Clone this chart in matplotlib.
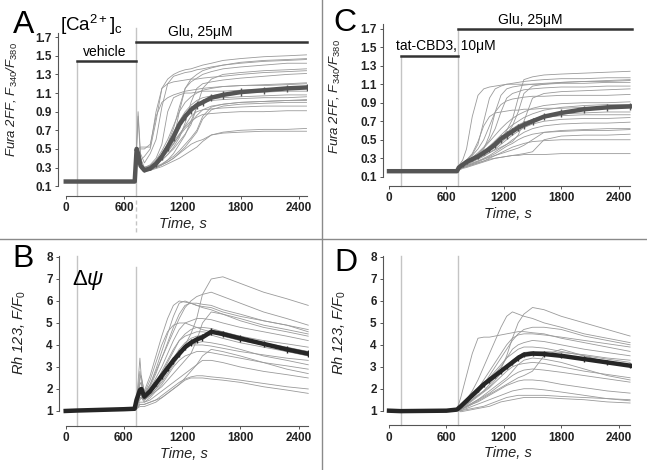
import matplotlib
matplotlib.use("Agg")
import matplotlib.pyplot as plt
from matplotlib.lines import Line2D

plt.rcParams['font.family'] = ['Liberation Sans', 'DejaVu Sans']
plt.rcParams['mathtext.fontset'] = 'custom'
plt.rcParams['mathtext.rm'] = 'Liberation Sans'
plt.rcParams['mathtext.it'] = 'Liberation Sans:italic'
plt.rcParams['mathtext.bf'] = 'Liberation Sans:bold'

# ---------------- data ----------------
# Panel A: Fura-2FF, vehicle then Glu
time_a = [0, 120, 600, 710, 730, 745, 770, 810, 870, 930, 990, 1050, 1110, 1170,
          1230, 1290, 1350, 1410, 1500, 1620, 1800, 2040, 2280, 2480]
base_a = [0.15, 0.15, 0.15, 0.15]
traces_a = [
    base_a + [0.5, 0.45, 0.38, 0.42, 0.5, 0.8, 1.15, 1.25, 1.3, 1.33, 1.35, 1.36, 1.38, 1.4, 1.42, 1.45, 1.47, 1.49, 1.5, 1.51],
    base_a + [0.55, 0.9, 0.45, 0.35, 0.45, 0.6, 0.95, 1.2, 1.28, 1.3, 1.32, 1.33, 1.35, 1.36, 1.38, 1.4, 1.43, 1.45, 1.46, 1.47],
    base_a + [0.5, 0.5, 0.52, 0.52, 0.52, 0.9, 1.15, 1.2, 1.22, 1.23, 1.24, 1.25, 1.25, 1.26, 1.27, 1.28, 1.3, 1.32, 1.33, 1.34],
    base_a + [0.45, 0.4, 0.32, 0.3, 0.33, 0.4, 0.55, 0.9, 1.05, 1.08, 1.1, 1.1, 1.11, 1.12, 1.12, 1.12, 1.13, 1.14, 1.15, 1.15],
    base_a + [0.5, 0.45, 0.32, 0.28, 0.3, 0.35, 0.42, 0.5, 0.6, 0.9, 1.15, 1.22, 1.26, 1.3, 1.33, 1.36, 1.38, 1.4, 1.42, 1.42],
    base_a + [0.45, 0.4, 0.3, 0.27, 0.28, 0.3, 0.33, 0.38, 0.45, 0.55, 0.65, 0.8, 0.95, 1.0, 1.02, 1.03, 1.04, 1.05, 1.05, 1.06],
    base_a + [0.48, 0.42, 0.3, 0.28, 0.29, 0.31, 0.34, 0.38, 0.42, 0.48, 0.55, 0.62, 0.7, 0.85, 0.95, 0.98, 1.0, 1.01, 1.02, 1.02],
    base_a + [0.45, 0.4, 0.3, 0.27, 0.28, 0.3, 0.33, 0.36, 0.4, 0.45, 0.5, 0.55, 0.58, 0.6, 0.65, 0.68, 0.7, 0.71, 0.71, 0.72],
    base_a + [0.42, 0.38, 0.29, 0.26, 0.27, 0.29, 0.31, 0.34, 0.37, 0.4, 0.44, 0.48, 0.52, 0.58, 0.65, 0.67, 0.68, 0.69, 0.69, 0.69],
    base_a + [0.5, 0.45, 0.33, 0.3, 0.32, 0.36, 0.42, 0.5, 0.58, 0.66, 0.74, 0.8, 0.84, 0.87, 0.88, 0.89, 0.9, 0.9, 0.91, 0.91],
    base_a + [0.48, 0.45, 0.32, 0.29, 0.31, 0.35, 0.4, 0.47, 0.55, 0.65, 0.75, 0.85, 0.9, 0.92, 0.93, 0.94, 0.95, 0.96, 0.96, 0.96],
    base_a + [0.5, 0.85, 0.4, 0.3, 0.32, 0.38, 0.48, 0.6, 0.75, 0.9, 1.0, 1.06, 1.1, 1.13, 1.15, 1.17, 1.18, 1.19, 1.2, 1.21],
    base_a + [0.45, 0.42, 0.31, 0.28, 0.3, 0.33, 0.38, 0.44, 0.52, 0.62, 0.78, 1.0, 1.15, 1.2, 1.22, 1.24, 1.26, 1.28, 1.3, 1.31],
    base_a + [0.5, 0.45, 0.33, 0.3, 0.31, 0.34, 0.38, 0.44, 0.5, 0.58, 0.66, 0.76, 0.95, 1.15, 1.25, 1.3, 1.32, 1.34, 1.35, 1.36],
    base_a + [0.47, 0.43, 0.31, 0.28, 0.3, 0.34, 0.42, 0.52, 0.63, 0.74, 0.84, 0.92, 0.98, 1.02, 1.04, 1.05, 1.06, 1.07, 1.08, 1.08],
    base_a + [0.46, 0.42, 0.3, 0.27, 0.28, 0.3, 0.33, 0.36, 0.4, 0.46, 0.52, 0.6, 0.68, 0.82, 0.92, 0.96, 0.98, 0.99, 1.0, 1.0],
    base_a + [0.52, 0.5, 0.5, 0.5, 0.55, 0.85, 1.0, 1.05, 1.08, 1.1, 1.12, 1.13, 1.14, 1.15, 1.16, 1.17, 1.18, 1.18, 1.19, 1.2],
    base_a + [0.5, 0.46, 0.34, 0.3, 0.32, 0.36, 0.44, 0.56, 0.72, 0.95, 1.15, 1.25, 1.3, 1.34, 1.37, 1.4, 1.42, 1.44, 1.45, 1.46],
    base_a + [0.46, 0.42, 0.31, 0.28, 0.3, 0.34, 0.4, 0.48, 0.56, 0.64, 0.72, 0.78, 0.86, 0.92, 0.96, 0.98, 1.0, 1.01, 1.02, 1.03],
    base_a + [0.5, 0.45, 0.32, 0.29, 0.31, 0.36, 0.44, 0.55, 0.68, 0.8, 0.9, 0.97, 1.02, 1.05, 1.07, 1.09, 1.1, 1.11, 1.12, 1.12],
]
mean_a = base_a + [0.5, 0.45, 0.32, 0.27, 0.29, 0.34, 0.42, 0.52, 0.63, 0.76, 0.85, 0.92, 0.97, 1.0, 1.05, 1.08, 1.11, 1.13, 1.15, 1.16]
sem_a = [0.01, 0.01, 0.01, 0.01, 0.02, 0.03, 0.02, 0.02, 0.02, 0.03, 0.04, 0.04, 0.04, 0.04,
         0.04, 0.04, 0.04, 0.04, 0.04, 0.04, 0.04, 0.04, 0.04, 0.04]

# Panel C: Fura-2FF, tat-CBD3 then Glu
time_c = [0, 120, 600, 710, 730, 770, 810, 870, 930, 990, 1050, 1110, 1170, 1230,
          1290, 1350, 1410, 1500, 1620, 1800, 2040, 2280, 2520]
base_c = [0.16, 0.16, 0.16, 0.16]
traces_c = [
    base_c + [0.2, 0.22, 0.24, 0.27, 0.3, 0.34, 0.38, 0.43, 0.5, 0.6, 0.72, 0.95, 1.15, 1.18, 1.2, 1.21, 1.22, 1.23, 1.24],
    base_c + [0.22, 0.28, 0.4, 0.75, 0.98, 1.05, 1.07, 1.08, 1.09, 1.1, 1.1, 1.1, 1.1, 1.1, 1.11, 1.12, 1.13, 1.13, 1.14],
    base_c + [0.2, 0.24, 0.28, 0.34, 0.45, 0.7, 0.95, 1.05, 1.08, 1.1, 1.11, 1.12, 1.13, 1.14, 1.15, 1.16, 1.16, 1.17, 1.17],
    base_c + [0.2, 0.23, 0.25, 0.28, 0.31, 0.35, 0.39, 0.44, 0.5, 0.56, 0.65, 0.8, 1.0, 1.08, 1.1, 1.12, 1.13, 1.14, 1.15],
    base_c + [0.21, 0.24, 0.27, 0.31, 0.36, 0.42, 0.5, 0.62, 0.8, 0.95, 1.0, 1.02, 1.04, 1.05, 1.06, 1.07, 1.07, 1.08, 1.08],
    base_c + [0.2, 0.24, 0.28, 0.33, 0.4, 0.5, 0.65, 0.8, 0.88, 0.92, 0.94, 0.95, 0.96, 0.97, 0.97, 0.98, 0.98, 0.98, 0.99],
    base_c + [0.2, 0.23, 0.26, 0.3, 0.35, 0.41, 0.48, 0.55, 0.62, 0.68, 0.73, 0.77, 0.8, 0.84, 0.87, 0.89, 0.9, 0.9, 0.91],
    base_c + [0.19, 0.22, 0.25, 0.29, 0.33, 0.38, 0.43, 0.49, 0.55, 0.61, 0.66, 0.7, 0.74, 0.78, 0.82, 0.85, 0.87, 0.88, 0.88],
    base_c + [0.19, 0.22, 0.24, 0.27, 0.3, 0.34, 0.38, 0.42, 0.47, 0.52, 0.57, 0.62, 0.67, 0.72, 0.76, 0.78, 0.79, 0.8, 0.8],
    base_c + [0.19, 0.21, 0.23, 0.26, 0.29, 0.32, 0.36, 0.4, 0.45, 0.5, 0.55, 0.59, 0.63, 0.67, 0.7, 0.72, 0.73, 0.73, 0.74],
    base_c + [0.18, 0.2, 0.22, 0.24, 0.27, 0.3, 0.33, 0.37, 0.41, 0.45, 0.5, 0.54, 0.58, 0.62, 0.65, 0.67, 0.68, 0.68, 0.69],
    base_c + [0.18, 0.2, 0.22, 0.24, 0.26, 0.29, 0.32, 0.35, 0.39, 0.43, 0.46, 0.5, 0.53, 0.56, 0.58, 0.59, 0.6, 0.6, 0.61],
    base_c + [0.18, 0.2, 0.21, 0.23, 0.25, 0.27, 0.29, 0.3, 0.31, 0.32, 0.33, 0.34, 0.35, 0.37, 0.5, 0.54, 0.55, 0.55, 0.56],
    base_c + [0.17, 0.19, 0.2, 0.22, 0.24, 0.26, 0.28, 0.3, 0.31, 0.32, 0.33, 0.33, 0.34, 0.34, 0.34, 0.35, 0.35, 0.35, 0.35],
    base_c + [0.18, 0.2, 0.21, 0.23, 0.25, 0.27, 0.3, 0.33, 0.36, 0.39, 0.42, 0.44, 0.46, 0.48, 0.49, 0.5, 0.5, 0.5, 0.5],
    base_c + [0.2, 0.22, 0.24, 0.27, 0.3, 0.33, 0.36, 0.39, 0.42, 0.45, 0.48, 0.55, 0.7, 0.95, 1.0, 1.02, 1.03, 1.04, 1.05],
    base_c + [0.19, 0.21, 0.23, 0.25, 0.27, 0.29, 0.31, 0.33, 0.35, 0.37, 0.39, 0.41, 0.44, 0.5, 0.58, 0.6, 0.61, 0.62, 0.62],
    base_c + [0.2, 0.24, 0.28, 0.35, 0.48, 0.65, 0.75, 0.79, 0.8, 0.81, 0.82, 0.82, 0.83, 0.83, 0.84, 0.84, 0.85, 0.85, 0.85],
    base_c + [0.2, 0.23, 0.27, 0.3, 0.34, 0.4, 0.55, 0.8, 0.98, 1.05, 1.07, 1.08, 1.09, 1.1, 1.1, 1.11, 1.11, 1.12, 1.12],
    base_c + [0.19, 0.22, 0.25, 0.29, 0.33, 0.38, 0.43, 0.48, 0.53, 0.58, 0.62, 0.66, 0.69, 0.72, 0.74, 0.76, 0.77, 0.77, 0.77],
]
mean_c = base_c + [0.2, 0.23, 0.26, 0.29, 0.32, 0.36, 0.4, 0.45, 0.51, 0.55, 0.59, 0.63, 0.66, 0.7, 0.75, 0.79, 0.83, 0.85, 0.86]
sem_c = [0.01] * 4 + [0.01, 0.02, 0.02, 0.02, 0.03, 0.03, 0.03, 0.04, 0.04, 0.04, 0.04, 0.04,
                      0.04, 0.04, 0.04, 0.04, 0.04, 0.04, 0.04]

# Panel B: Rh123, vehicle then Glu
time_b = [0, 120, 600, 710, 730, 765, 780, 810, 870, 930, 990, 1050, 1110, 1170,
          1230, 1290, 1350, 1410, 1500, 1620, 1800, 2040, 2280, 2500]
base_b = [1.0, 1.02, 1.08, 1.1]
traces_b = [
    base_b + [1.2, 1.5, 1.6, 1.5, 1.7, 2.0, 2.4, 2.8, 3.2, 3.6, 4.0, 4.5, 5.2, 6.3, 7.0, 7.1, 6.8, 6.4, 6.1, 5.8],
    base_b + [1.3, 2.5, 2.6, 1.8, 2.2, 2.8, 3.4, 4.0, 4.6, 5.2, 5.7, 6.0, 6.2, 6.3, 6.4, 6.2, 5.9, 5.5, 5.2, 4.9],
    base_b + [1.4, 3.4, 2.5, 1.9, 2.6, 3.5, 4.4, 5.2, 5.8, 6.0, 5.95, 5.9, 5.8, 5.7, 5.6, 5.4, 5.2, 4.9, 4.7, 4.5],
    base_b + [1.3, 2.2, 2.3, 1.7, 2.1, 2.7, 3.4, 4.1, 4.8, 5.4, 5.8, 5.9, 5.9, 5.85, 5.8, 5.6, 5.4, 5.1, 4.9, 4.7],
    base_b + [1.3, 2.0, 2.0, 1.7, 2.0, 2.5, 3.0, 3.6, 4.2, 4.7, 5.0, 5.1, 5.2, 5.2, 5.15, 5.0, 4.8, 4.6, 4.4, 4.2],
    base_b + [1.3, 2.0, 1.9, 1.6, 1.9, 2.3, 2.7, 3.2, 3.7, 4.2, 4.5, 4.7, 4.8, 4.8, 4.75, 4.6, 4.4, 4.2, 4.05, 3.9],
    base_b + [1.2, 1.8, 1.8, 1.5, 1.8, 2.1, 2.5, 2.9, 3.4, 3.8, 4.1, 4.3, 4.4, 4.45, 4.45, 4.3, 4.1, 3.9, 3.7, 3.5],
    base_b + [1.2, 1.7, 1.7, 1.5, 1.7, 2.0, 2.3, 2.7, 3.1, 3.5, 3.8, 4.0, 4.1, 4.15, 4.1, 4.0, 3.8, 3.5, 3.3, 3.1],
    base_b + [1.1, 1.3, 1.3, 1.3, 1.4, 1.5, 1.6, 1.8, 2.0, 2.2, 2.5, 2.8, 3.1, 3.5, 3.8, 3.7, 3.5, 3.2, 2.9, 2.7],
    base_b + [1.1, 1.2, 1.2, 1.2, 1.3, 1.4, 1.6, 1.8, 2.0, 2.2, 2.4, 2.5, 2.5, 2.5, 2.45, 2.4, 2.3, 2.1, 1.95, 1.8],
    base_b + [1.1, 1.3, 1.3, 1.3, 1.4, 1.5, 1.7, 1.9, 2.1, 2.3, 2.45, 2.55, 2.6, 2.6, 2.55, 2.5, 2.4, 2.25, 2.1, 2.0],
    base_b + [1.15, 1.4, 1.4, 1.4, 1.5, 1.7, 1.9, 2.1, 2.3, 2.5, 2.7, 2.9, 3.1, 3.3, 3.3, 3.2, 3.0, 2.8, 2.65, 2.5],
    base_b + [1.2, 1.6, 1.6, 1.5, 1.7, 1.9, 2.1, 2.4, 2.7, 3.0, 3.3, 3.6, 4.2, 5.0, 5.5, 5.4, 5.1, 4.8, 4.6, 4.4],
    base_b + [1.2, 1.8, 1.7, 1.5, 1.8, 2.2, 2.6, 3.0, 3.4, 3.7, 3.9, 4.0, 4.0, 4.0, 3.95, 3.85, 3.7, 3.55, 3.4, 3.3],
    base_b + [1.2, 1.6, 1.6, 1.4, 1.6, 1.9, 2.2, 2.6, 3.0, 3.3, 3.5, 3.6, 3.7, 3.7, 3.65, 3.55, 3.4, 3.2, 3.05, 2.9],
    base_b + [1.3, 2.8, 2.3, 1.8, 2.4, 3.2, 4.0, 4.6, 4.9, 5.0, 5.0, 4.9, 4.8, 4.7, 4.6, 4.4, 4.2, 4.0, 3.85, 3.7],
    base_b + [1.25, 1.9, 1.9, 1.6, 1.9, 2.3, 2.8, 3.3, 3.8, 4.2, 4.4, 4.5, 4.6, 4.6, 4.55, 4.45, 4.3, 4.1, 3.9, 3.7],
    base_b + [1.3, 2.3, 2.2, 1.7, 2.2, 2.9, 3.7, 4.5, 5.3, 5.9, 6.0, 5.9, 5.8, 5.75, 5.7, 5.5, 5.3, 5.1, 4.9, 4.6],
]
mean_b = base_b + [1.5, 1.95, 2.0, 1.65, 1.9, 2.25, 2.6, 2.95, 3.3, 3.6, 3.9, 4.1, 4.25, 4.35, 4.6, 4.5, 4.3, 4.05, 3.8, 3.6]
sem_b = [0.02] * 4 + [0.05, 0.1, 0.1, 0.08, 0.1, 0.12, 0.14, 0.15, 0.15, 0.15, 0.15, 0.15,
                      0.15, 0.15, 0.15, 0.15, 0.15, 0.15, 0.15, 0.15]

# Panel D: Rh123, tat-CBD3 then Glu
time_d = [0, 120, 600, 710, 750, 810, 870, 930, 990, 1050, 1110, 1170, 1230, 1290,
          1350, 1410, 1500, 1620, 1800, 2040, 2280, 2520]
base_d = [1.0, 0.98, 1.0, 1.05]
traces_d = [
    base_d + [1.1, 1.3, 1.5, 1.7, 1.9, 2.2, 2.5, 2.9, 3.5, 4.3, 5.0, 5.4, 5.7, 5.6, 5.3, 5.0, 4.7, 4.4],
    base_d + [1.6, 2.6, 3.6, 4.3, 4.35, 4.35, 4.4, 4.45, 4.5, 4.55, 4.6, 4.6, 4.55, 4.5, 4.3, 4.1, 3.9, 3.7],
    base_d + [1.2, 1.5, 1.9, 2.4, 3.0, 3.6, 4.2, 4.8, 5.3, 5.5, 5.4, 5.3, 5.2, 5.0, 4.8, 4.5, 4.3, 4.1],
    base_d + [1.1, 1.3, 1.6, 1.9, 2.2, 2.6, 3.0, 3.4, 3.8, 4.2, 4.5, 4.7, 4.8, 4.8, 4.7, 4.4, 4.2, 4.0],
    base_d + [1.1, 1.3, 1.5, 1.8, 2.1, 2.4, 2.7, 3.0, 3.4, 3.8, 4.0, 4.1, 4.2, 4.15, 4.0, 3.8, 3.65, 3.5],
    base_d + [1.1, 1.3, 1.5, 1.7, 1.9, 2.1, 2.4, 2.7, 3.0, 3.3, 3.5, 3.65, 3.7, 3.7, 3.65, 3.55, 3.4, 3.3],
    base_d + [1.05, 1.2, 1.35, 1.5, 1.7, 1.9, 2.1, 2.3, 2.5, 2.8, 3.1, 3.3, 3.4, 3.35, 3.2, 2.9, 2.6, 2.4],
    base_d + [1.05, 1.2, 1.35, 1.5, 1.65, 1.8, 2.0, 2.2, 2.4, 2.6, 2.75, 2.85, 2.9, 2.85, 2.75, 2.6, 2.45, 2.3],
    base_d + [1.05, 1.15, 1.3, 1.4, 1.55, 1.7, 1.85, 2.0, 2.15, 2.25, 2.35, 2.4, 2.4, 2.35, 2.2, 2.05, 1.9, 1.8],
    base_d + [1.0, 1.05, 1.1, 1.15, 1.2, 1.3, 1.4, 1.5, 1.6, 1.65, 1.7, 1.7, 1.7, 1.7, 1.65, 1.6, 1.55, 1.5],
    base_d + [0.95, 1.0, 1.05, 1.1, 1.15, 1.2, 1.3, 1.4, 1.45, 1.5, 1.55, 1.6, 1.6, 1.6, 1.55, 1.5, 1.4, 1.35],
    base_d + [1.05, 1.2, 1.3, 1.45, 1.6, 1.75, 1.9, 2.05, 2.2, 2.35, 2.5, 2.6, 2.8, 3.5, 3.8, 3.5, 3.2, 3.0],
    base_d + [1.0, 1.1, 1.2, 1.3, 1.4, 1.5, 1.6, 1.7, 1.8, 1.9, 1.95, 2.0, 2.0, 1.95, 1.85, 1.7, 1.55, 1.45],
    base_d + [1.1, 1.4, 1.7, 2.0, 2.4, 2.8, 3.2, 3.6, 4.0, 4.3, 4.45, 4.5, 4.5, 4.45, 4.35, 4.2, 4.05, 3.9],
    base_d + [1.1, 1.35, 1.6, 1.9, 2.2, 2.5, 2.8, 3.1, 3.4, 3.6, 3.8, 3.9, 3.9, 3.85, 3.7, 3.5, 3.35, 3.2],
    base_d + [1.05, 1.25, 1.45, 1.65, 1.85, 2.05, 2.3, 2.55, 2.8, 3.0, 3.1, 3.15, 3.2, 3.15, 3.0, 2.8, 2.65, 2.5],
]
mean_d = base_d + [1.2, 1.45, 1.7, 1.95, 2.2, 2.4, 2.6, 2.8, 3.0, 3.2, 3.4, 3.55, 3.6, 3.58, 3.5, 3.35, 3.2, 3.05]
sem_d = [0.02] * 4 + [0.04, 0.06, 0.08, 0.1, 0.1, 0.12, 0.12, 0.12, 0.12, 0.12, 0.12, 0.12,
                      0.12, 0.12, 0.12, 0.12, 0.12, 0.12]

xticks = [0, 600, 1200, 1800, 2400]
yticks_fura = [0.1, 0.3, 0.5, 0.7, 0.9, 1.1, 1.3, 1.5, 1.7]
yticks_rh = [1, 2, 3, 4, 5, 6, 7, 8]

# ---------------- figure ----------------
W, H = 647, 470
fig = plt.figure(figsize=(W / 100, H / 100), dpi=100)


def px_axes(left, top, right, bottom):
    return fig.add_axes([left / W, 1 - bottom / H, (right - left) / W, (bottom - top) / H])


TRACE_C = '#9a9a9a'


def style(ax, xlim, ylim, yticks, ylab, yfmt, xend, ybounds, labxy, labsize):
    ax.set_xlim(*xlim)
    ax.set_ylim(*ylim)
    for s in ['top', 'right']:
        ax.spines[s].set_visible(False)
    ax.spines['left'].set_bounds(*ybounds)
    ax.spines['bottom'].set_bounds(0, xend)
    for s in ['left', 'bottom']:
        ax.spines[s].set_color('#555555')
        ax.spines[s].set_linewidth(0.8)
    ax.set_xticks(xticks)
    ax.set_yticks(yticks)
    ax.set_yticklabels([yfmt.format(v) for v in yticks])
    ax.tick_params(direction='out', length=2.5, width=0.7, color='#555555',
                   labelsize=8.5, pad=2)
    for lab in ax.get_xticklabels() + ax.get_yticklabels():
        lab.set_fontweight('bold')
        lab.set_color('#222222')
    ax.set_xlabel('Time, s', fontsize=10.5, fontstyle='italic', labelpad=2, color='#222222')
    ax.set_ylabel(ylab, fontsize=labsize, fontstyle='italic', color='#222222')
    ax.yaxis.set_label_coords(*labxy)
    ax.patch.set_alpha(0)


def draw(ax, t, traces, mean, sem, mcol, vlines):
    for (xv, y0, y1) in vlines:
        ax.plot([xv, xv], [y0, y1], color='#c4c4c4', lw=1.0, zorder=1, clip_on=False)
    for tr in traces:
        ax.plot(t, tr, color=TRACE_C, lw=0.6, zorder=2)
    ax.errorbar(t, mean, yerr=sem, color=mcol, lw=3.2, elinewidth=1.0, capsize=0, zorder=3)


fura_lab = r'Fura 2FF, F$_\mathit{340}$/F$_\mathit{380}$'
rh_lab = r'Rh 123, F/F$_\mathit{0}$'

# Panel A
axA = px_axes(58, 32.5, 307.5, 195.5)
style(axA, (-80, 2490), (0.0, 1.75), yticks_fura, fura_lab, '{:.1f}', 2480, (0.1, 1.75),
      (-0.152, 0.59), 9.5)
draw(axA, time_a, traces_a, mean_a, sem_a, '#555555',
     [(120, 0.0, 1.445), (720, 0.0, 1.80)])
axA.plot([120, 720], [1.445, 1.445], color='#333333', lw=1.8, clip_on=False)
axA.plot([720, 2485], [1.648, 1.648], color='#333333', lw=1.8, clip_on=False)
axA.text(405, 1.54, 'vehicle', ha='center', va='center', fontsize=10)
axA.text(1385, 1.76, 'Glu, 25\u03bcM', ha='center', va='center', fontsize=10)

# Panel C
axC = px_axes(383, 24.1, 632, 186)
style(axC, (-63, 2540), (0.0, 1.75), yticks_fura, fura_lab, '{:.1f}', 2520, (0.1, 1.75),
      (-0.161, 0.55), 9.5)
draw(axC, time_c, traces_c, mean_c, sem_c, '#555555',
     [(120, 0.0, 1.40), (720, 0.0, 1.70)])
axC.plot([120, 720], [1.40, 1.40], color='#333333', lw=1.8, clip_on=False)
axC.plot([720, 2535], [1.693, 1.693], color='#333333', lw=1.8, clip_on=False)
axC.text(590, 1.51, 'tat-CBD3, 10\u03bcM', ha='center', va='center', fontsize=10)
axC.text(1480, 1.79, 'Glu, 25\u03bcM', ha='center', va='center', fontsize=10)

# Panel B
axB = px_axes(58.9, 255.9, 309.2, 425.7)
style(axB, (-70, 2510), (0.33, 8.05), yticks_rh, rh_lab, '{:d}', 2500, (1, 8.05),
      (-0.123, 0.55), 10.5)
draw(axB, time_b, traces_b, mean_b, sem_b, '#262626',
     [(120, 0.33, 8.05), (720, 0.33, 7.55)])

# Panel D
axD = px_axes(383, 255.9, 632, 425.4)
style(axD, (-63, 2540), (0.33, 8.05), yticks_rh, rh_lab, '{:d}', 2520, (1, 8.05),
      (-0.141, 0.55), 10.5)
draw(axD, time_d, traces_d, mean_d, sem_d, '#262626',
     [(120, 0.33, 8.05), (720, 0.33, 8.05)])


def ftext(x, y, s, **kw):
    fig.text(x / W, 1 - y / H, s, **kw)


ftext(24, 25, 'A', fontsize=23, ha='center', va='center')
ftext(23, 259, 'B', fontsize=23, ha='center', va='center')
ftext(345, 23, 'C', fontsize=23, ha='center', va='center')
ftext(346, 263, 'D', fontsize=23, ha='center', va='center')
ftext(60, 25, r'[Ca$^{2+}$]$_\mathrm{c}$', fontsize=13.5, ha='left', va='center')
ftext(72, 280, r'$\mathrm{\Delta}\psi$', fontsize=16, ha='left', va='center')

# panel dividers
fig.add_artist(Line2D([321.5 / W, 321.5 / W], [0, 1], color='#8a8a8a', lw=1.0))
fig.add_artist(Line2D([0, 1], [1 - 238.5 / H, 1 - 238.5 / H], color='#8a8a8a', lw=1.0))
# dashed continuation of Glu marker below panel A
fig.add_artist(Line2D([136 / W, 136 / W], [1 - 200 / H, 1 - 232 / H], color='#c4c4c4',
                      lw=1.0, ls=(0, (3, 2))))

fig.savefig('out.png', dpi=100)
